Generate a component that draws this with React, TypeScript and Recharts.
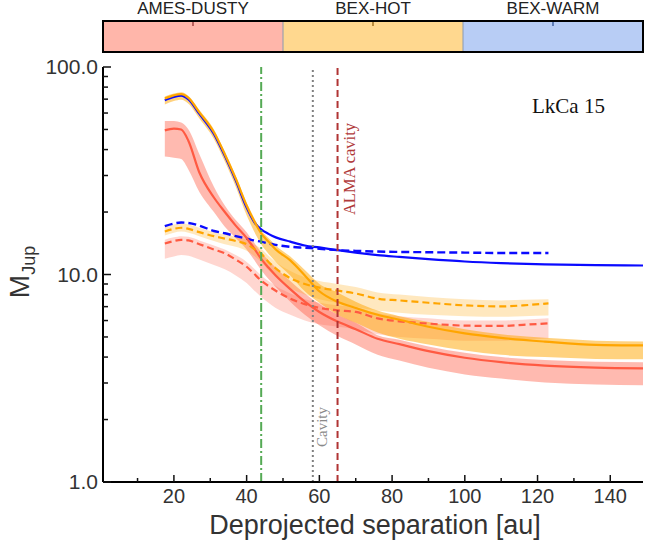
import { ComposedChart, Line, Area, XAxis, YAxis, ReferenceLine } from 'recharts'

// separations [au] for the solid (full range) and dashed (shorter range) curves
const SEP_SOLID = [17.5, 20, 22, 24, 27, 31, 34, 37, 40, 42, 44, 46, 48, 52, 56, 60, 65, 70, 76, 82, 90, 100, 110, 122, 136, 149]
const SEP_DASHED = [17.5, 20, 22, 24, 27, 31, 34, 37, 40, 42, 44, 46, 48, 52, 56, 60, 65, 70, 76, 82, 90, 100, 110, 116, 123]

// solid curves
const HOT_SOLID = [70.5, 73, 74, 71, 60.5, 48.5, 38, 29, 21.5, 18.2, 15.8, 14.4, 13.2, 11.7, 9.9, 8.3, 7.39, 6.9, 6.4, 6.05, 5.6, 5.2, 4.95, 4.75, 4.58, 4.55]
const HOT_SOLID_LO = [66, 68.5, 69.5, 66.5, 56.5, 45, 35, 26.5, 19.3, 16.2, 14.0, 12.6, 11.5, 9.9, 8.3, 7.3, 6.4, 5.85, 5.25, 4.9, 4.6, 4.3, 4.1, 4.0, 3.92, 3.9]
const HOT_SOLID_HI = [72, 74.5, 75.5, 72.5, 62, 50, 39, 29.8, 22.2, 18.8, 16.3, 15.0, 13.8, 12.2, 10.5, 9.0, 8.2, 7.4, 6.7, 6.3, 5.9, 5.45, 5.15, 4.95, 4.8, 4.75]
const WARM_SOLID = [69.2, 71.8, 72.8, 69.8, 59.4, 47.6, 37.3, 28.4, 21.0, 18.0, 16.5, 15.7, 15.1, 14.4, 13.8, 13.5, 13.1, 12.75, 12.4, 12.15, 11.85, 11.55, 11.35, 11.2, 11.1, 11.05]
const DUSTY_SOLID = [49.5, 50.5, 50, 44, 31, 23.5, 20, 17.2, 15.0, 13.4, 11.9, 10.8, 9.9, 8.5, 7.4, 6.6, 5.93, 5.45, 4.9, 4.62, 4.27, 3.97, 3.78, 3.64, 3.56, 3.53]
const DUSTY_SOLID_LO = [37, 36.5, 36, 32, 25, 20, 17, 15, 13.2, 11.8, 10.5, 9.5, 8.7, 7.4, 6.4, 5.7, 5.05, 4.6, 4.1, 3.85, 3.55, 3.3, 3.15, 3.02, 2.95, 2.93]
const DUSTY_SOLID_HI = [55, 55, 54, 50, 38, 26.5, 21.5, 18.3, 16.0, 14.3, 12.8, 11.7, 10.8, 9.3, 8.1, 7.2, 6.4, 5.85, 5.1, 4.85, 4.5, 4.2, 4.0, 3.87, 3.8, 3.78]

// dashed curves
const WARM_DASHED = [17.1, 17.6, 17.8, 17.7, 17.2, 16.2, 15.8, 15.3, 14.9, 14.6, 14.4, 14.1, 13.9, 13.6, 13.45, 13.3, 13.1, 13.0, 12.9, 12.85, 12.8, 12.75, 12.7, 12.7, 12.7]
const HOT_DASHED = [16.1, 16.6, 16.8, 16.6, 16.0, 15.3, 14.9, 14.5, 14.0, 13.3, 12.6, 11.5, 10.7, 9.6, 9.0, 8.65, 8.36, 8.1, 7.65, 7.5, 7.31, 7.1, 7.02, 7.1, 7.26]
const HOT_DASHED_LO = [15.4, 15.9, 16.1, 15.9, 15.3, 14.5, 14.0, 13.6, 13.0, 12.3, 11.5, 10.5, 9.7, 8.6, 8.0, 7.6, 7.3, 7.0, 6.7, 6.55, 6.4, 6.3, 6.25, 6.3, 6.35]
const HOT_DASHED_HI = [16.9, 17.4, 17.6, 17.4, 16.8, 16.0, 15.6, 15.2, 14.7, 14.0, 13.3, 12.3, 11.5, 10.4, 9.7, 9.3, 9.0, 8.7, 8.2, 8.0, 7.8, 7.6, 7.5, 7.55, 7.6]
const DUSTY_DASHED = [14.1, 14.5, 14.7, 14.6, 14.0, 13.2, 12.65, 11.8, 10.9, 10.1, 9.35, 8.8, 8.35, 7.65, 7.2, 6.9, 6.72, 6.6, 6.15, 5.95, 5.8, 5.67, 5.65, 5.72, 5.82]
const DUSTY_DASHED_LO = [11.9, 12.2, 12.4, 12.3, 11.8, 11.1, 10.6, 9.9, 9.1, 8.4, 7.8, 7.3, 6.9, 6.4, 6.0, 5.75, 5.6, 5.45, 5.15, 5.0, 4.9, 4.8, 4.8, 4.85, 4.92]
const DUSTY_DASHED_HI = [14.7, 15.1, 15.3, 15.2, 14.6, 13.8, 13.2, 12.4, 11.5, 10.7, 9.9, 9.3, 8.8, 8.1, 7.6, 7.3, 7.1, 6.95, 6.5, 6.3, 6.15, 6.0, 6.0, 6.05, 6.15]

// marker separations [au]
const SEP_INNER = 44
const SEP_CAVITY = 58.2
const SEP_ALMA = 65

const X_MAJOR = [20, 40, 60, 80, 100, 120, 140]
const X_MINOR = [10, 30, 50, 70, 90, 110, 130]
const Y_MAJOR = [1, 10, 100]
const Y_MINOR = [2, 3, 4, 5, 6, 7, 8, 9, 20, 30, 40, 50, 60, 70, 80, 90]

const MODELS = ['AMES-DUSTY', 'BEX-HOT', 'BEX-WARM']
const MODEL_FILLS = ['#ffb6aa', '#ffd88f', '#b8cdf5']
const MODEL_MARKS = ['#a04040', '#a07020', '#4060a0']

const X_TICKS = [...X_MAJOR, ...X_MINOR].sort((a, b) => a - b)
const Y_TICKS = [...Y_MAJOR, ...Y_MINOR].sort((a, b) => a - b)

const solidRows = SEP_SOLID.map((sep, i) => ({
  sep,
  hot: HOT_SOLID[i],
  hotBand: [HOT_SOLID_LO[i], HOT_SOLID_HI[i]],
  warm: WARM_SOLID[i],
  dusty: DUSTY_SOLID[i],
  dustyBand: [DUSTY_SOLID_LO[i], DUSTY_SOLID_HI[i]],
}))

const dashedRows = SEP_DASHED.map((sep, i) => ({
  sep,
  warm: WARM_DASHED[i],
  hot: HOT_DASHED[i],
  hotBand: [HOT_DASHED_LO[i], HOT_DASHED_HI[i]],
  dusty: DUSTY_DASHED[i],
  dustyBand: [DUSTY_DASHED_LO[i], DUSTY_DASHED_HI[i]],
}))

const SANS = 'Liberation Sans, Arial, sans-serif'
const SERIF = 'Liberation Serif, Times New Roman, serif'
const BLUE = '#0a0aff'
const ORANGE = '#ffa500'
const RED = '#ff5a42'

const fmtY = (v: number) => v.toFixed(1)

function BottomTick({ x, y, payload }: any) {
  const major = X_MAJOR.includes(payload.value)
  return (
    <g>
      <line x1={x} y1={y} x2={x} y2={y - (major ? 7 : 4)} stroke="#111" strokeWidth={1.5} />
      {major && (
        <text x={x} y={y + 21} textAnchor="middle" fontSize={20} fill="#333" fontFamily={SANS}>
          {payload.value}
        </text>
      )}
    </g>
  )
}

function TopTick({ x, y, payload }: any) {
  const major = X_MAJOR.includes(payload.value)
  return <line x1={x} y1={y} x2={x} y2={y + (major ? 7 : 4)} stroke="#111" strokeWidth={1.5} />
}

function LeftTick({ x, y, payload }: any) {
  const major = Y_MAJOR.includes(payload.value)
  return (
    <g>
      <line x1={x} y1={y} x2={x + (major ? 8 : 5)} y2={y} stroke="#111" strokeWidth={1.5} />
      {major && (
        <text x={x - 5} y={y + 7} textAnchor="end" fontSize={21} fill="#333" fontFamily={SANS}>
          {fmtY(payload.value)}
        </text>
      )}
    </g>
  )
}

function RightTick({ x, y, payload }: any) {
  const major = Y_MAJOR.includes(payload.value)
  return <line x1={x} y1={y} x2={x - (major ? 8 : 5)} y2={y} stroke="#111" strokeWidth={1.5} />
}

function VerticalText({ text, color, size, dx, cy }: any) {
  return ({ viewBox }: any) => {
    const cx = viewBox.x + dx
    return (
      <text x={cx} y={cy} transform={`rotate(-90 ${cx} ${cy})`} textAnchor="middle" fontSize={size} fill={color} fontFamily={SERIF}>
        {text}
      </text>
    )
  }
}

function ModelBar() {
  const left = 103
  const w = 180
  return (
    <svg width={645} height={60} style={{ position: 'absolute', left: 0, top: 0 }}>
      {MODELS.map((m, i) => (
        <g key={m}>
          <rect x={left + i * w} y={21} width={w} height={31} fill={MODEL_FILLS[i]} />
          <line x1={left + i * w + w / 2} y1={22} x2={left + i * w + w / 2} y2={26} stroke={MODEL_MARKS[i]} strokeWidth={1.5} />
          <text x={left + i * w + w / 2} y={14} textAnchor="middle" fontSize={17} fill="#222" fontFamily={SANS}>
            {m}
          </text>
        </g>
      ))}
      <line x1={left + w} y1={21} x2={left + w} y2={52} stroke="#8a9ab0" strokeWidth={1} />
      <line x1={left + 2 * w} y1={21} x2={left + 2 * w} y2={52} stroke="#8a9ab0" strokeWidth={1} />
      <rect x={left} y={21} width={3 * w} height={31} fill="none" stroke="#000" strokeWidth={2} />
    </svg>
  )
}

export default function App() {
  return (
    <div style={{ position: 'absolute', left: 0, top: 0, width: 645, height: 544, background: '#fff' }}>
      <ComposedChart width={645} height={544} margin={{ top: 67, right: 2, bottom: 0, left: 0 }}>
        <XAxis
          type="number"
          dataKey="sep"
          domain={[0.5, 149]}
          allowDataOverflow
          ticks={X_TICKS}
          interval={0}
          tickSize={0}
          tickMargin={0}
          tick={BottomTick}
          axisLine={{ stroke: '#000', strokeWidth: 2 }}
          height={62}
        />
        <XAxis
          xAxisId="top"
          orientation="top"
          type="number"
          dataKey="sep"
          domain={[0.5, 149]}
          allowDataOverflow
          ticks={X_TICKS}
          interval={0}
          tickSize={0}
          tickMargin={0}
          tick={TopTick}
          axisLine={{ stroke: '#000', strokeWidth: 2 }}
          height={0}
        />
        <YAxis
          type="number"
          scale="log"
          domain={[1, 100]}
          allowDataOverflow
          ticks={Y_TICKS}
          interval={0}
          tickSize={0}
          tickMargin={0}
          tick={LeftTick}
          axisLine={{ stroke: '#000', strokeWidth: 2 }}
          width={103}
        />
        <YAxis
          yAxisId="right"
          orientation="right"
          type="number"
          scale="log"
          domain={[1, 100]}
          allowDataOverflow
          ticks={Y_TICKS}
          interval={0}
          tickSize={0}
          tickMargin={0}
          tick={RightTick}
          axisLine={{ stroke: '#000', strokeWidth: 2 }}
          width={0}
        />

        {/* BEX-WARM lines first, so the HOT band tints them where they overlap */}
        <Line data={solidRows} dataKey="warm" type="monotone" stroke={BLUE} strokeWidth={2.2} dot={false} activeDot={false} isAnimationActive={false} />
        <Line data={dashedRows} dataKey="warm" type="monotone" stroke={BLUE} strokeWidth={2.4} strokeDasharray="8 4" dot={false} activeDot={false} isAnimationActive={false} />

        {/* AMES-DUSTY */}
        <Area data={solidRows} dataKey="dustyBand" type="monotone" stroke="none" fill={RED} fillOpacity={0.42} dot={false} activeDot={false} isAnimationActive={false} />
        <Area data={dashedRows} dataKey="dustyBand" type="monotone" stroke="none" fill={RED} fillOpacity={0.25} dot={false} activeDot={false} isAnimationActive={false} />
        <Line data={solidRows} dataKey="dusty" type="monotone" stroke={RED} strokeWidth={2.2} dot={false} activeDot={false} isAnimationActive={false} />
        <Line data={dashedRows} dataKey="dusty" type="monotone" stroke={RED} strokeWidth={2.2} strokeDasharray="7 4" dot={false} activeDot={false} isAnimationActive={false} />

        {/* BEX-HOT */}
        <Area data={solidRows} dataKey="hotBand" type="monotone" stroke="none" fill={ORANGE} fillOpacity={0.5} dot={false} activeDot={false} isAnimationActive={false} />
        <Area data={dashedRows} dataKey="hotBand" type="monotone" stroke="none" fill={ORANGE} fillOpacity={0.25} dot={false} activeDot={false} isAnimationActive={false} />
        <Line data={solidRows} dataKey="hot" type="monotone" stroke={ORANGE} strokeWidth={2.2} dot={false} activeDot={false} isAnimationActive={false} />
        <Line data={dashedRows} dataKey="hot" type="monotone" stroke={ORANGE} strokeWidth={2.2} strokeDasharray="7 4" dot={false} activeDot={false} isAnimationActive={false} />

        <ReferenceLine x={SEP_INNER} stroke="#55aa55" strokeWidth={2} strokeDasharray="9 3 2 3" />
        <ReferenceLine
          x={SEP_CAVITY}
          stroke="#808080"
          strokeWidth={2}
          strokeDasharray="2 3"
          label={VerticalText({ text: 'Cavity', color: '#8a8a8a', size: 15, dx: 14, cy: 427 })}
        />
        <ReferenceLine
          x={SEP_ALMA}
          stroke="#b03434"
          strokeWidth={2}
          strokeDasharray="7 4"
          label={VerticalText({ text: 'ALMA cavity', color: '#b03a3a', size: 16.5, dx: 17, cy: 169 })}
        />
      </ComposedChart>

      <ModelBar />

      <svg width={645} height={544} style={{ position: 'absolute', left: 0, top: 0, pointerEvents: 'none' }}>
        <text x={532} y={113} fontSize={21} fill="#111" fontFamily={SERIF}>
          LkCa 15
        </text>
        <text x={375} y={534} textAnchor="middle" fontSize={27} fill="#333" fontFamily={SANS}>
          Deprojected separation [au]
        </text>
        <text x={29} y={272} transform="rotate(-90 29 272)" textAnchor="middle" fontSize={28} fill="#333" fontFamily={SANS}>
          M
          <tspan fontSize={18} dy={6}>
            Jup
          </tspan>
        </text>
      </svg>
    </div>
  )
}
